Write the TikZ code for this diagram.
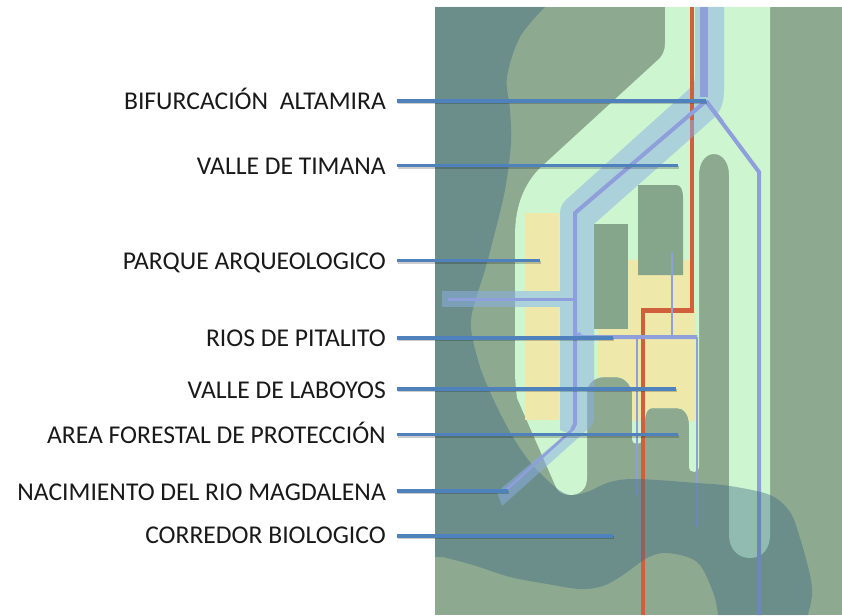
\documentclass[tikz,border=0pt]{standalone}
\usepackage{fontspec}
\setmainfont{Carlito}
\definecolor{basegreen}{HTML}{8DAA91}
\definecolor{lightgreen}{HTML}{CDF5CF}
\definecolor{sand}{HTML}{EEE8AB}
\definecolor{blockgreen}{HTML}{86A68B}
\definecolor{bandblue}{HTML}{8BAFE7}
\definecolor{roadred}{HTML}{D05F3C}
\definecolor{riverblue}{HTML}{8F9FDB}
\definecolor{forest}{HTML}{386684}
\definecolor{leaderblue}{HTML}{4F81BD}
\tikzset{
  x=1pt,y=-1pt,
  lab/.style={anchor=base east,font=\fontsize{25.6}{28}\selectfont,text=black!90,inner xsep=11pt,inner ysep=0pt},
  leader/.style={draw=leaderblue,line width=3.2pt,preaction={draw=black,opacity=.2,line width=3pt,transform canvas={xshift=1pt,yshift=-1.8pt}}},
  road/.style={draw=roadred,line width=4.5pt},
  river/.style={draw=riverblue,line join=round},
}
\begin{document}
\begin{tikzpicture}
\useasboundingbox (0,0) rectangle (842,615);
% ground
\fill[basegreen] (435,7) rectangle (842,615);
% light green valley
\fill[lightgreen] (665,7) -- (770,7) -- (770,535) .. controls (770,549) and (762,558) .. (750,558)
  .. controls (738,558) and (729,549) .. (729,535) -- (729,175)
  .. controls (729,163) and (723,154) .. (714,154) .. controls (705,154) and (699,163) .. (699,175)
  -- (699,466) .. controls (699,470) and (697,472) .. (694,472) .. controls (691,472) and (689,470) .. (689,466)
  -- (689,425) .. controls (689,415) and (684,408) .. (677,408) -- (652,408)
  .. controls (648,408) and (645,413) .. (645,418) -- (643,438)
  .. controls (643,442) and (640,444) .. (637,444) .. controls (634,444) and (632,442) .. (632,438)
  -- (632,392) .. controls (630,383) and (624,377) .. (615,377) -- (605,377)
  .. controls (595,377) and (587,383) .. (587,393) -- (587,478)
  .. controls (587,489) and (580,495) .. (570,495) .. controls (562,495) and (557,491) .. (555,485)
  -- (517,398) .. controls (516,390) and (515,380) .. (515,370) -- (515,235)
  .. controls (515,205) and (525,183) .. (540,168) -- (660,58)
  .. controls (663,54) and (665,50) .. (665,43) -- cycle;
% sand
\fill[sand] (525,213) rectangle (559,291);
\fill[sand] (525,307) rectangle (559,420);
\fill[sand] (628,260) -- (692,260) -- (692,308) -- (695,308) -- (695,421) -- (689,421)
  .. controls (688,414) and (684,408) .. (677,408) -- (652,408)
  .. controls (648,408) and (645,413) .. (645,421) -- (632,421) -- (632,392)
  .. controls (630,383) and (624,377) .. (615,377) -- (598,377) -- (598,329) -- (628,329) -- cycle;
% blocks
\fill[blockgreen] (594,224) rectangle (628,329);
\fill[blockgreen] (638,185) -- (676,185) .. controls (681,185) and (683,190) .. (683,198) -- (683,275) -- (638,275) -- cycle;
% road and lower rivers, dimmed by the forest corridor
\draw[road] (692,120) -- (692,310);
\draw[road,line width=5pt] (694.2,310) -- (641,310);
\draw[road,line width=4.2pt] (643,308) -- (643,615);
\draw[river,line width=4pt] (706,101) -- (759,172) -- (759,615);
\draw[river,line width=4pt] (578,333) .. controls (579,336) and (580,337) .. (583,337) -- (697,337);
\draw[river,line width=2.6pt] (637,337) -- (637,495);
\draw[river,line width=2.6pt] (697,337) -- (697,527);
\draw[river,line width=2.2pt] (672,337) -- (672,252);
% forest corridor
\fill[forest,opacity=.4] (435,7) -- plot[smooth,tension=.55] coordinates {(545,7) (520,37) (507,77) (510,110) (511,143) (505,190) (493,240) (485,270) (471,320) (478,360) (490,392) (510,432) (530,462) (555,487) (570,495) (587,492) (610,482) (637,479) (697,483) (730,486) (770,495) (790,512) (800,538) (810,575) (812,595) (808,615)}
 -- plot[smooth,tension=.55] coordinates {(718,615) (713,592) (697,562) (667,553) (647,558) (623,575) (603,586) (580,589) (547,584) (510,577) (473,565) (443,557)} -- (435,557) -- cycle;
% river corridor
\fill[bandblue,opacity=.5] (695,7) -- (724,7) -- (724,90) .. controls (724,102) and (721,110) .. (715,117)
  -- (594,224) -- (594,418) .. controls (594,424) and (591,428) .. (587,430)
  -- (502,506) -- (497,492) -- (567,433) -- (560,430) -- (560,213)
  .. controls (560,207) and (563,202) .. (568,198) -- (688,90) .. controls (692,86) and (695,83) .. (695,78) -- cycle;
\fill[bandblue,opacity=.5] (442,291) rectangle (560,307);
\draw[road] (692,7) -- (692,120);
% main rivers
\draw[river,line width=7.5pt] (704,7) -- (704,97);
\draw[river,line width=4pt] (706,101) -- (575,213) -- (575,424) -- (572,430);
\draw[river,line width=2.6pt] (572,430) -- (505,491);
\draw[river,line width=4pt] (706,101) -- (722,122);
\draw[river,line width=3pt] (575,299) -- (448,299);
% labels
\node[lab] (l1) at (397,110) {BIFURCACIÓN\ \ ALTAMIRA};
\node[lab] (l2) at (397,174) {VALLE DE TIMANA};
\node[lab] (l3) at (397,269) {PARQUE ARQUEOLOGICO};
\node[lab] (l4) at (397,346) {RIOS DE PITALITO};
\node[lab] (l5) at (397,398) {VALLE DE LABOYOS};
\node[lab] (l6) at (397,443) {AREA FORESTAL DE PROTECCIÓN};
\node[lab] (l7) at (397,500) {NACIMIENTO DEL RIO MAGDALENA};
\node[lab] (l8) at (397,543) {CORREDOR BIOLOGICO};
\coordinate (e1) at (706,101);
\coordinate (e2) at (678,165.5);
\coordinate (e3) at (540,260.5);
\coordinate (e4) at (613,338);
\coordinate (e5) at (676,389);
\coordinate (e6) at (678,434.5);
\coordinate (e7) at (508,491);
\coordinate (e8) at (613,536);
\foreach \i in {1,...,8}{\draw[leader] (l\i.east |- e\i) -- (e\i);}
\end{tikzpicture}
\end{document}
